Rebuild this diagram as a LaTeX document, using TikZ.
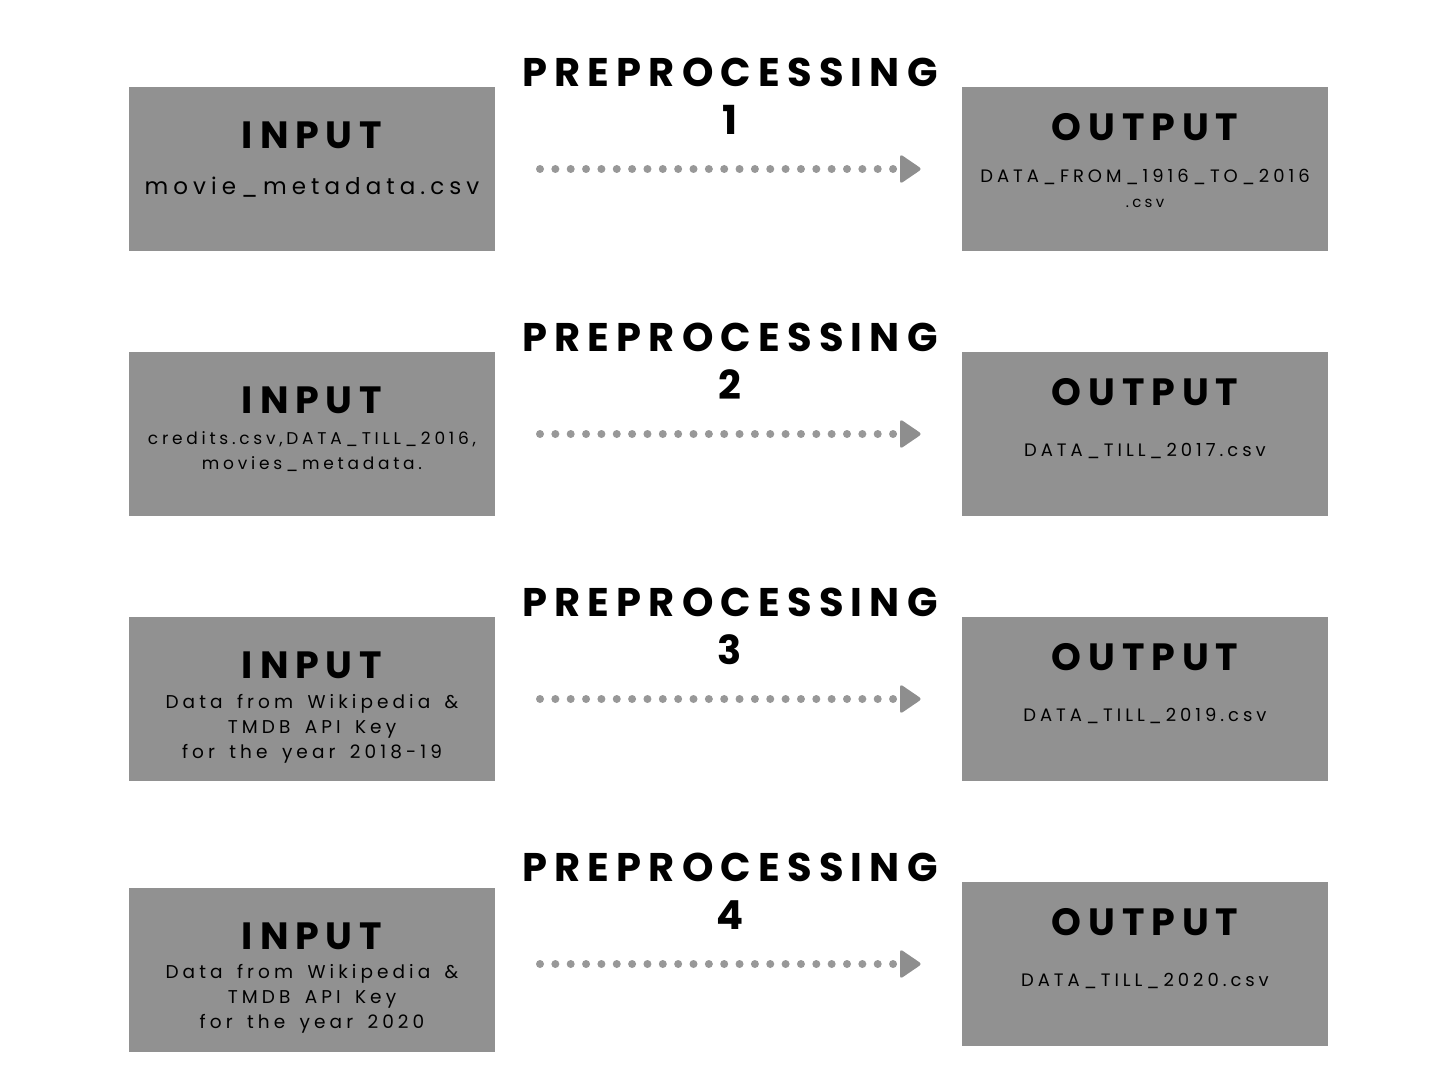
\documentclass[tikz,border=0pt]{standalone}
\usepackage{fontspec}
\setmainfont{Poppins}
\newfontfamily\headfont[LetterSpace=18]{Poppins}
\newfontfamily\bodyfont[LetterSpace=22,WordSpace=1.6]{Poppins}
\usetikzlibrary{positioning}
\definecolor{c919191}{RGB}{145,145,145}
\definecolor{c989898}{RGB}{152,152,152}
\definecolor{c8e8e8e}{RGB}{142,142,142}

\begin{document}
\begin{tikzpicture}[y=1pt, x=1pt, yscale=-1, inner sep=0pt, outer sep=0pt,
  databox/.style={fill=c919191, minimum width=366pt, minimum height=164pt},
  boxtitle/.style={font=\headfont\bfseries\fontsize{38}{38}\selectfont},
  steptitle/.style={font=\headfont\bfseries\fontsize{40}{48}\selectfont, align=center},
  boxtext/.style={font=\bodyfont\fontsize{18.5}{25}\selectfont, align=center},
  dotline/.style={draw=c989898, line width=8pt, line cap=round, dash pattern=on 0pt off 15.35pt},
  arrowtip/.style={fill=c8e8e8e, rounded corners=3pt}]
  \useasboundingbox (0,0) rectangle (1437,1078);

  % row 1
  \path (312,169) node[databox] (in1) {};
  \path (1145,169) node[databox] (out1) {};
  \path (312,135) node[boxtitle] (text-in1) {INPUT};
  \path (312,187) node[boxtext] (body-in1) {{\fontsize{23}{25}\selectfont movie\_metadata.csv}};
  \path (1145,127) node[boxtitle] (text-out1) {OUTPUT};
  \path (1145,188) node[boxtext] (body-out1) {{\fontsize{18}{25}\selectfont DATA\_FROM\_1916\_TO\_2016}\\{\fontsize{15}{15}\selectfont .csv}};
  \path (730,96) node[steptitle] (step1) {PREPROCESSING\\1};
  \coordinate (s1) at (540,169);
  \coordinate (d1) at (893.5,169);
  \draw[dotline] (s1) -- (d1);
  \path[arrowtip] (900,169) -- (900,154) -- (922,169) -- (900,184) -- cycle;

  % row 2
  \path (312,434) node[databox] (in2) {};
  \path (1145,434) node[databox] (out2) {};
  \path (312,400) node[boxtitle] (text-in2) {INPUT};
  \path (312,452) node[boxtext] (body-in2) {{\fontsize{17}{22}\selectfont credits.csv,DATA\_TILL\_2016,}\\{\fontsize{17}{22}\selectfont movies\_metadata.}};
  \path (1145,392) node[boxtitle] (text-out2) {OUTPUT};
  \path (1145,451) node[boxtext] (body-out2) {{\fontsize{18}{25}\selectfont DATA\_TILL\_2017.csv}};
  \path (730,361) node[steptitle] (step2) {PREPROCESSING\\2};
  \coordinate (s2) at (540,434);
  \coordinate (d2) at (893.5,434);
  \draw[dotline] (s2) -- (d2);
  \path[arrowtip] (900,434) -- (900,419) -- (922,434) -- (900,449) -- cycle;

  % row 3
  \path (312,699) node[databox] (in3) {};
  \path (1145,699) node[databox] (out3) {};
  \path (312,665) node[boxtitle] (text-in3) {INPUT};
  \path (312,729) node[boxtext] (body-in3) {Data from Wikipedia \&\\TMDB API Key\\for the year 2018-19};
  \path (1145,657) node[boxtitle] (text-out3) {OUTPUT};
  \path (1145,716) node[boxtext] (body-out3) {{\fontsize{18}{25}\selectfont DATA\_TILL\_2019.csv}};
  \path (730,626) node[steptitle] (step3) {PREPROCESSING\\3};
  \coordinate (s3) at (540,699);
  \coordinate (d3) at (893.5,699);
  \draw[dotline] (s3) -- (d3);
  \path[arrowtip] (900,699) -- (900,684) -- (922,699) -- (900,714) -- cycle;

  % row 4
  \path (312,970) node[databox] (in4) {};
  \path (1145,964) node[databox] (out4) {};
  \path (312,936) node[boxtitle] (text-in4) {INPUT};
  \path (312,999) node[boxtext] (body-in4) {Data from Wikipedia \&\\TMDB API Key\\for the year 2020};
  \path (1145,922) node[boxtitle] (text-out4) {OUTPUT};
  \path (1145,981) node[boxtext] (body-out4) {{\fontsize{18}{25}\selectfont DATA\_TILL\_2020.csv}};
  \path (730,891) node[steptitle] (step4) {PREPROCESSING\\4};
  \coordinate (s4) at (540,964);
  \coordinate (d4) at (893.5,964);
  \draw[dotline] (s4) -- (d4);
  \path[arrowtip] (900,964) -- (900,949) -- (922,964) -- (900,979) -- cycle;
\end{tikzpicture}
\end{document}
